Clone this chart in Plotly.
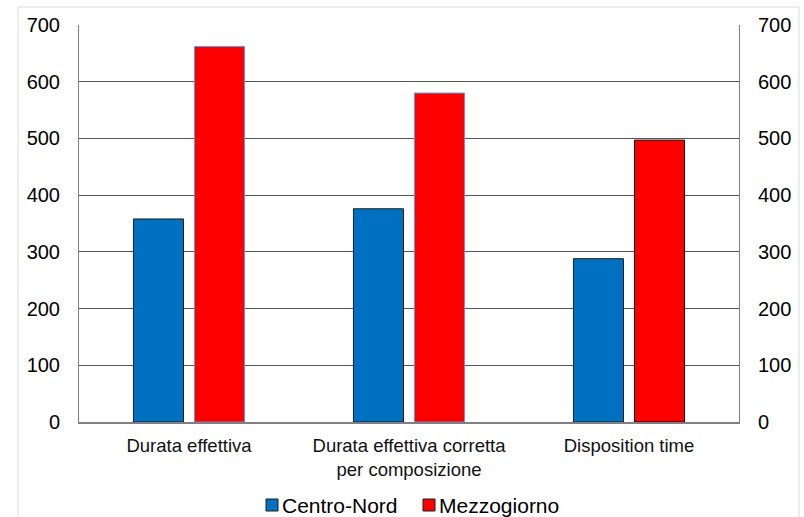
import plotly.graph_objects as go

# Data
categories = ["Durata effettiva", "Durata effettiva corretta<br>per composizione", "Disposition time"]
centro_nord = [358, 376, 288]
mezzogiorno = [662, 580, 497]
series_names = ["Centro-Nord", "Mezzogiorno"]
y_ticks = [0, 100, 200, 300, 400, 500, 600, 700]

BLUE = "#0070c0"
RED = "#ff0000"
FONT = "Liberation Sans, Arial, sans-serif"

W, H = 804, 517
ML, MR, MT, MB = 79, 65, 25, 95
PW, PH = W - ML - MR, H - MT - MB


def px_x(px):
    return (px - ML) / PW


def px_y(py):
    return (H - MB - py) / PH


fig = go.Figure()
fig.add_trace(go.Bar(
    x=categories, y=centro_nord, name=series_names[0],
    marker=dict(color=BLUE, line=dict(color="#1f1f1f", width=1)),
    showlegend=False,
))
fig.add_trace(go.Bar(
    x=categories, y=mezzogiorno, name=series_names[1],
    marker=dict(color=RED, line=dict(color=["#5b9bd5", "#5b9bd5", "#000000"], width=1)),
    showlegend=False,
))
# invisible anchor so the right-hand value axis is rendered
fig.add_trace(go.Scatter(
    x=[categories[0]], y=[y_ticks[0]], yaxis="y2", mode="markers",
    marker=dict(opacity=0), hoverinfo="skip", showlegend=False,
))

shapes = [
    # outer chart frame
    dict(type="rect", xref="paper", yref="paper",
         x0=px_x(18), x1=px_x(799), y0=px_y(540), y1=px_y(7),
         line=dict(color="#d9d9d9", width=1), fillcolor="rgba(0,0,0,0)", layer="below"),
]
annotations = []

# legend swatches and labels
legend_items = [(series_names[0], BLUE, 266), (series_names[1], RED, 423)]
for name, color, sx in legend_items:
    shapes.append(dict(type="rect", xref="paper", yref="paper",
                       x0=px_x(sx), x1=px_x(sx + 12), y0=px_y(511), y1=px_y(499),
                       line=dict(color="#1f1f1f", width=1), fillcolor=color))
    annotations.append(dict(xref="paper", yref="paper", x=px_x(sx + 14), y=px_y(505),
                            xanchor="left", yanchor="middle", text=name, showarrow=False,
                            font=dict(family=FONT, size=21, color="#000000")))

fig.update_layout(
    width=W, height=H,
    margin=dict(l=ML, r=MR, t=MT, b=MB),
    paper_bgcolor="white", plot_bgcolor="white",
    barmode="group", bargap=0.445, bargroupgap=0.18,
    font=dict(family=FONT, color="#000000"),
    shapes=shapes, annotations=annotations,
    xaxis=dict(
        showgrid=False, showline=True, linecolor="#808080", linewidth=1.5,
        ticks="", tickfont=dict(size=18.5, color="#111111"),
        ticklabelstandoff=6,
    ),
    yaxis=dict(
        range=[0, 700], tickvals=y_ticks, showgrid=True, gridcolor="#555555", gridwidth=1,
        showline=True, linecolor="#808080", linewidth=1, zeroline=False,
        ticks="", tickfont=dict(size=20), ticklabelstandoff=14,
    ),
    yaxis2=dict(
        range=[0, 700], tickvals=y_ticks, overlaying="y", side="right",
        showgrid=False, showline=True, linecolor="#808080", linewidth=1, zeroline=False,
        ticks="", tickfont=dict(size=20), ticklabelstandoff=14,
    ),
)

fig.write_html("out.html")
